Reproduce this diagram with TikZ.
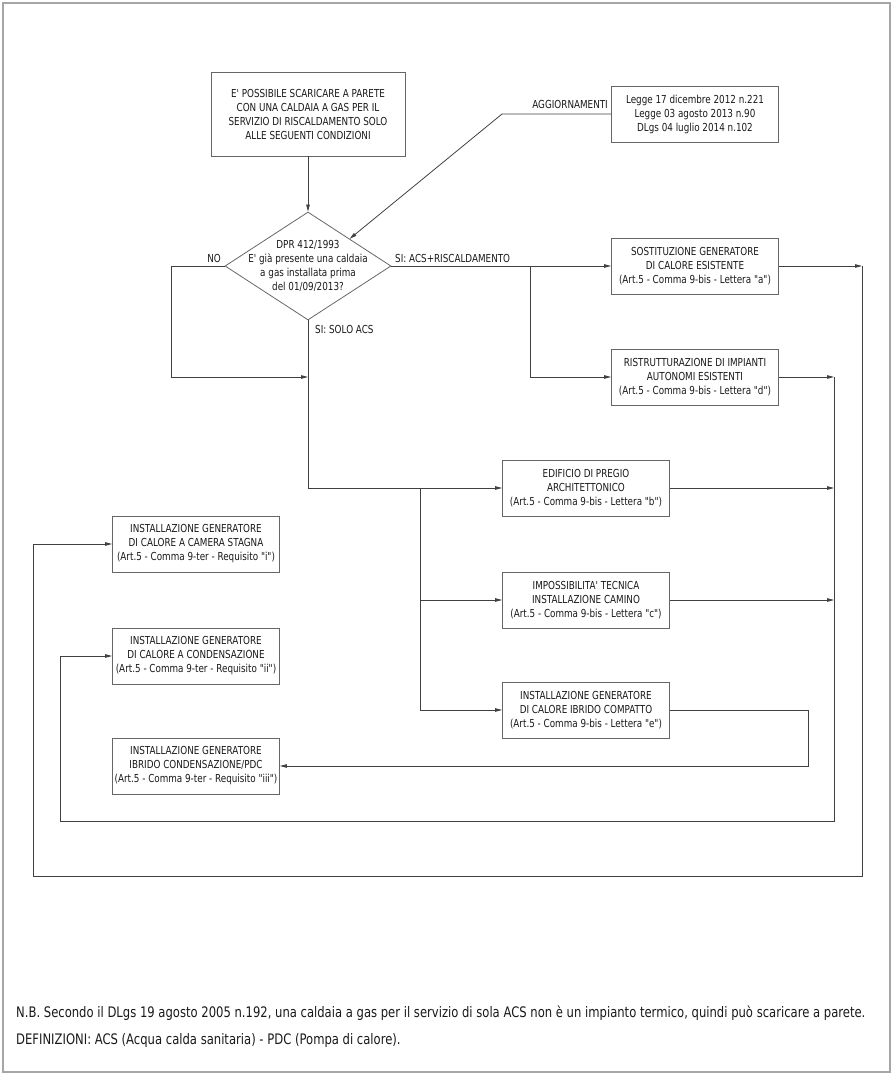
\documentclass[tikz,border=0pt]{standalone}
\usepackage{fontspec}
\setmainfont{DejaVu Sans}[FakeStretch=0.8, Ligatures=TeXOff]
\usetikzlibrary{arrows.meta, shapes.geometric}

\begin{document}
\begin{tikzpicture}[x=1pt, y=-1pt, >={Triangle[length=7pt, width=3.5pt]},
    every node/.style={font=\fontsize{11}{14}\selectfont, text=black!90},
    box/.style={draw=black!60, line width=0.8pt, align=center, inner sep=0pt,
        minimum width=167pt, minimum height=56pt},
    bigbox/.style={box, minimum width=194pt, minimum height=84pt},
    decision/.style={draw=black!60, line width=0.8pt, diamond, inner sep=0pt,
        minimum width=166pt, minimum height=108pt},
    txt/.style={align=center, inner sep=0pt},
    note/.style={txt, anchor=west, font=\fontsize{14.5}{18}\selectfont},
    link/.style={draw=black!75, line width=0.8pt}]

    \useasboundingbox (0,0) rectangle (893,1074);
    \draw[black!35, line width=1.5pt] (3,3) rectangle (890,1072);

    % Nodes
    \node (start) [bigbox] at (308,114) {E' POSSIBILE SCARICARE A PARETE\\CON UNA CALDAIA A GAS PER IL\\SERVIZIO DI RISCALDAMENTO SOLO\\ALLE SEGUENTI CONDIZIONI};
    \node (dec) [decision, below of=start, node distance=152pt] {};
    \node (dectext) [txt] at (dec) {DPR 412/1993\\E' già presente una caldaia\\a gas installata prima\\del 01/09/2013?};
    \node (refs) [box, right of=start, node distance=387pt] {Legge 17 dicembre 2012 n.221\\Legge 03 agosto 2013 n.90\\DLgs 04 luglio 2014 n.102};
    \node (sost) [box, right of=dec, node distance=387pt] {SOSTITUZIONE GENERATORE\\DI CALORE ESISTENTE\\(Art.5 - Comma 9-bis - Lettera "a")};
    \node (ristr) [box, below of=sost, node distance=111pt] {RISTRUTTURAZIONE DI IMPIANTI\\AUTONOMI ESISTENTI\\(Art.5 - Comma 9-bis - Lettera "d")};
    \node (edif) [box] at (586,488) {EDIFICIO DI PREGIO\\ARCHITETTONICO\\(Art.5 - Comma 9-bis - Lettera "b")};
    \node (impos) [box, below of=edif, node distance=112pt] {IMPOSSIBILITA' TECNICA\\INSTALLAZIONE CAMINO\\(Art.5 - Comma 9-bis - Lettera "c")};
    \node (ibrc) [box, below of=impos, node distance=110pt] {INSTALLAZIONE GENERATORE\\DI CALORE IBRIDO COMPATTO\\(Art.5 - Comma 9-bis - Lettera "e")};
    \node (camera) [box] at (196,544) {INSTALLAZIONE GENERATORE\\DI CALORE A CAMERA STAGNA\\(Art.5 - Comma 9-ter - Requisito "i")};
    \node (cond) [box, below of=camera, node distance=112pt] {INSTALLAZIONE GENERATORE\\DI CALORE A CONDENSAZIONE\\(Art.5 - Comma 9-ter - Requisito "ii")};
    \node (pdc) [box, below of=cond, node distance=110pt] {INSTALLAZIONE GENERATORE\\IBRIDO CONDENSAZIONE/PDC\\(Art.5 - Comma 9-ter - Requisito "iii")};

    % Labels
    \node (agg) [txt, anchor=south east] at (608,109) {AGGIORNAMENTI};
    \node (no) [txt, anchor=south east] at (221,263) {NO};
    \node (sirisc) [txt, anchor=south west] at (395,263) {SI: ACS+RISCALDAMENTO};
    \node (solo) [txt, anchor=west] at (315,329) {SI: SOLO ACS};

    % Bends
    \coordinate (aggbend) at (502,114);
    \coordinate (nobend) at (171,266);
    \coordinate (solojoin) at (308,377);
    \coordinate (riscjoin) at (530,266);
    \coordinate (edifjoin) at (420,488);
    \coordinate (outa) at (862,266);
    \coordinate (outd) at (834,377);
    \coordinate (loopa) at (33,876);
    \coordinate (loopd) at (60,821);

    % Arrows
    \draw[link, ->] (start) -- (dec);
    \draw[link, ->] (refs.west) -- (aggbend) -- (dec.north east);
    \draw[link, ->] (dec.west) -- (nobend) |- (solojoin);
    \draw[link, ->] (dec.south) |- (edif.west);
    \draw[link, ->] (dec.east) -- (sost.west);
    \draw[link, ->] (riscjoin) |- (ristr.west);
    \draw[link, ->] (edifjoin) |- (impos.west);
    \draw[link, ->] (edifjoin) |- (ibrc.west);
    \draw[link, ->] (sost.east) -- (outa);
    \draw[link, ->] (outa) |- (loopa) |- (camera.west);
    \draw[link, ->] (ristr.east) -- (outd);
    \draw[link, ->] (outd) |- (loopd) |- (cond.west);
    \draw[link, ->] (edif.east) -- (edif.east -| outd);
    \draw[link, ->] (impos.east) -- (impos.east -| outd);
    \draw[link, ->] (ibrc.east) -- ++(138,0) |- (pdc.east);

    % Notes
    \node (nb) [note] at (16,1013) {N.B. Secondo il DLgs 19 agosto 2005 n.192, una caldaia a gas per il servizio di sola ACS non è un impianto termico, quindi può scaricare a parete.};
    \node (defs) [note] at (16,1040) {DEFINIZIONI: ACS (Acqua calda sanitaria) - PDC (Pompa di calore).};
\end{tikzpicture}
\end{document}
